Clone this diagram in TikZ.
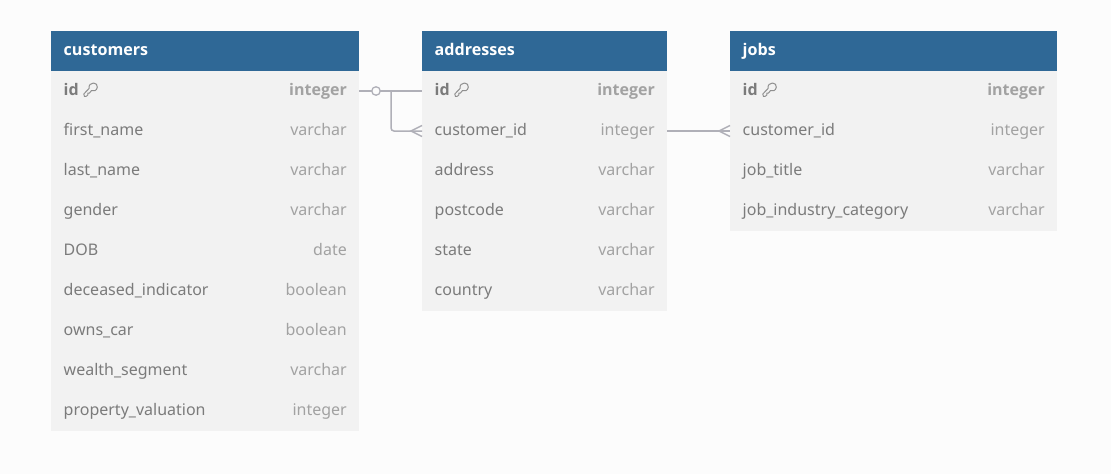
\documentclass[tikz,border=0pt]{standalone}
\usepackage{fontspec}
\usetikzlibrary{calc}
\setmainfont{Noto Sans}
\newfontfamily\heavyfont{Open Sans}
\definecolor{pagebg}{HTML}{FCFCFC}
\definecolor{hdr}{HTML}{2F6896}
\definecolor{rowbg}{HTML}{F2F2F2}
\definecolor{nametxt}{HTML}{7B7B7B}
\definecolor{typetxt}{HTML}{A2A2A2}
\definecolor{conn}{HTML}{B0B0B8}
\tikzset{
  x=1pt,y=-1pt,
  hdrbox/.style={fill=hdr,draw=none,inner sep=0,outer sep=0,anchor=north west,minimum height=40pt},
  rowbox/.style={fill=rowbg,draw=none,inner sep=0,outer sep=0,anchor=north west,minimum height=40pt},
  hdrtxt/.style={anchor=base west,inner sep=0,text=white,font=\heavyfont\fontsize{16.1}{18}\selectfont\bfseries},
  nametx/.style={anchor=base west,inner sep=0,text=nametxt,font=\fontsize{16}{18}\selectfont},
  typetx/.style={anchor=base east,inner sep=0,text=typetxt,font=\fontsize{16}{18}\selectfont},
  pkname/.style={nametx,font=\heavyfont\fontsize{16}{18}\selectfont\bfseries},
  pktype/.style={typetx,font=\heavyfont\fontsize{16}{18}\selectfont\bfseries},
  connector/.style={draw=conn,line width=1.5pt},
  keyicon/.style={draw=nametxt!85!white,line width=1pt,fill=none},
}
% \etable{id}{x}{width}{y}{title}
\newcommand{\etable}[5]{%
  \node[hdrbox,minimum width=#3pt] (#1) at (#2,#4) {};
  \node[hdrtxt] (#1title) at (#2+12.5,#4+24) {#5};
}
% \erow{id}{x}{width}{y}{name}{type}
\newcommand{\erow}[6]{%
  \node[rowbox,minimum width=#3pt] (#1) at (#2,#4) {};
  \node[nametx] (#1name) at (#2+12.5,#4+24) {#5};
  \node[typetx] (#1type) at (#2+#3-12,#4+24) {#6};
}
% \pkrow{id}{x}{width}{y}
\newcommand{\pkrow}[4]{%
  \node[rowbox,minimum width=#3pt] (#1) at (#2,#4) {};
  \node[pkname] (#1name) at (#2+12.5,#4+24) {id};
  \node[pktype] (#1type) at (#2+#3-12,#4+24) {integer};
  \draw[keyicon,line join=round] (#2+33.5,#4+25.5) -- (#2+32.8,#4+23) -- (#2+38,#4+17.5)
     .. controls (#2+37.5,#4+14) and (#2+40,#4+12) .. (#2+42.5,#4+12)
     .. controls (#2+45,#4+12) and (#2+46.7,#4+14) .. (#2+46.3,#4+16.2)
     .. controls (#2+45.8,#4+19.5) and (#2+43,#4+20.8) .. (#2+40.5,#4+19.5)
     -- (#2+38.5,#4+22) -- (#2+36.8,#4+22) -- (#2+36.8,#4+24) -- (#2+35.5,#4+25.2) -- cycle;
}
\begin{document}
\begin{tikzpicture}
\useasboundingbox (0,0) rectangle (1111,474);
\fill[pagebg] (0,0) rectangle (1111,474);

\etable{cust}{51}{308}{31}{customers}
\pkrow{custid}{51}{308}{71}
\erow{custa}{51}{308}{111}{first\_name}{varchar}
\erow{custb}{51}{308}{151}{last\_name}{varchar}
\erow{custc}{51}{308}{191}{gender}{varchar}
\erow{custd}{51}{308}{231}{DOB}{date}
\erow{custe}{51}{308}{271}{deceased\_indicator}{boolean}
\erow{custf}{51}{308}{311}{owns\_car}{boolean}
\erow{custg}{51}{308}{351}{wealth\_segment}{varchar}
\erow{custh}{51}{308}{391}{property\_valuation}{integer}

\etable{addr}{422}{245}{31}{addresses}
\pkrow{addrid}{422}{245}{71}
\erow{addrcid}{422}{245}{111}{customer\_id}{integer}
\erow{addra}{422}{245}{151}{address}{varchar}
\erow{addrb}{422}{245}{191}{postcode}{varchar}
\erow{addrc}{422}{245}{231}{state}{varchar}
\erow{addrd}{422}{245}{271}{country}{varchar}

\etable{jobs}{730}{327}{31}{jobs}
\pkrow{jobid}{730}{327}{71}
\erow{jobcid}{730}{327}{111}{customer\_id}{integer}
\erow{joba}{730}{327}{151}{job\_title}{varchar}
\erow{jobb}{730}{327}{191}{job\_industry\_category}{varchar}

% customers.id -- addresses.id
\draw[connector] (custid.east) -- (addrid.west);
\node[circle,draw=conn,fill=pagebg,line width=1.3pt,minimum size=8.5pt,inner sep=0] (opt) at (376,91) {};
\coordinate (bend) at (391,91);
% branch to addresses.customer_id
\draw[connector,rounded corners=3pt] (bend) |- (addrcid.west);
\draw[connector] ($(addrcid.west)+(0,-5.5)$) -- ($(addrcid.west)+(-11,0)$) -- ($(addrcid.west)+(0,5.5)$);
% addresses.customer_id -- jobs.customer_id
\draw[connector] (addrcid.east) -- (jobcid.west);
\draw[connector] ($(jobcid.west)+(0,-5.5)$) -- ($(jobcid.west)+(-11,0)$) -- ($(jobcid.west)+(0,5.5)$);
\end{tikzpicture}
\end{document}
